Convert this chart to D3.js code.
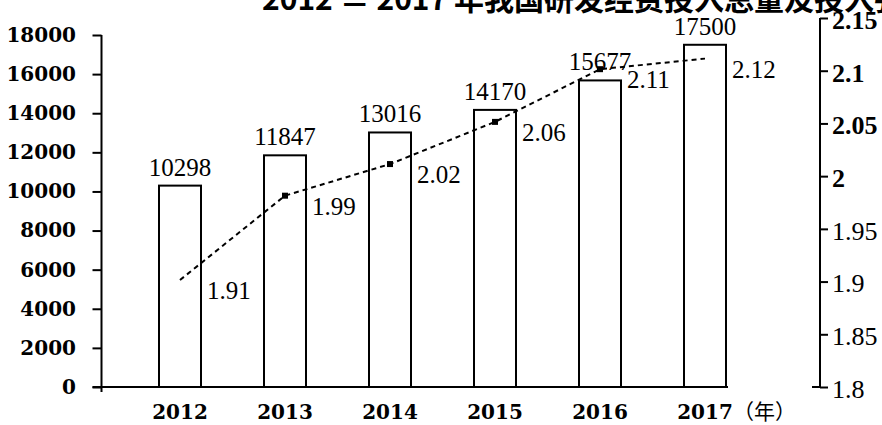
<!DOCTYPE html>
<html>
<head>
<meta charset="utf-8">
<script src="https://cdn.jsdelivr.net/npm/d3@7"></script>
<style>
  body { margin: 0; background: #fff; }
  svg { display: block; }
</style>
</head>
<body>
<div id="view"></div>
<script>
var width = 882, height = 425;

// data
var years = ["2012", "2013", "2014", "2015", "2016", "2017"];
var funding = [10298, 11847, 13016, 14170, 15677, 17500];   // 投入总量 (bars)
var intensity = [1.91, 1.99, 2.02, 2.06, 2.11, 2.12];      // 投入强度 (dashed line)
var leftTicks = [0, 2000, 4000, 6000, 8000, 10000, 12000, 14000, 16000, 18000];
var rightTicks = [1.8, 1.85, 1.9, 1.95, 2, 2.05, 2.1, 2.15];
var titleParts = ["2012 ", "－", " 2017 年我国研发经费投入总量及投入强度"];

var serif = "'Liberation Serif', 'Times New Roman', serif";
var boldSerif = "'DejaVu Serif', serif";

var svg = d3.select("#view").append("svg")
  .attr("width", width)
  .attr("height", height);

var baseY = 387;
var axisX = 101.5, rAxisX = 820;

var x = d3.scaleBand().domain(years).range([106.5, 778.5])
  .paddingInner(0.6).paddingOuter(0.5);
var yLeft = d3.scaleLinear().domain([0, 18000]).range([baseY, 35]);
var yRight = d3.scaleLinear().domain([1.8, 2.15]).range([baseY, 18]);
// the scanned line sits a little below its axis, keep that offset
var yLine = d3.scaleLinear().domain([1.8, 2.15]).range([baseY + 9, 27]);
var bw = x.bandwidth();

// title (clipped at top like the scan)
var t = svg.append("text")
  .attr("x", 262).attr("y", 10)
  .style("font-family", "'Noto Sans CJK SC', sans-serif")
  .style("font-weight", "bold")
  .style("font-size", "30px");
t.append("tspan").text(titleParts[0]);
t.append("tspan").attr("dy", 5).text(titleParts[1]);
t.append("tspan").attr("dy", -5).text(titleParts[2]);

// bars
svg.selectAll(".bar")
  .data(funding).enter()
  .append("rect")
  .attr("class", "bar")
  .attr("x", function(d, i) { return x(years[i]); })
  .attr("y", function(d) { return yLeft(d); })
  .attr("width", bw)
  .attr("height", function(d) { return baseY - yLeft(d); })
  .style("fill", "#fff")
  .style("stroke", "#000")
  .style("stroke-width", 2);

// left axis
var gl = svg.append("g")
  .attr("transform", "translate(" + axisX + ",0)")
  .call(d3.axisLeft(yLeft).tickValues(leftTicks).tickSize(9).tickPadding(16.5)
    .tickFormat(d3.format("d")));
gl.select(".domain").remove();
gl.append("line").attr("y1", yLeft(18000)).attr("y2", baseY + 5).style("stroke", "#000").style("stroke-width", 2);
gl.selectAll(".tick line").style("stroke-width", 2);
gl.selectAll(".tick text")
  .style("font-family", boldSerif)
  .style("font-weight", "bold")
  .style("font-size", "20px")
  .style("fill", "#000");

// x axis baseline
svg.append("line")
  .attr("x1", axisX - 9).attr("x2", x(years[years.length - 1]) + bw + 2)
  .attr("y1", baseY).attr("y2", baseY)
  .style("stroke", "#000").style("stroke-width", 2);

svg.selectAll(".xlab")
  .data(years).enter()
  .append("text")
  .attr("class", "xlab")
  .attr("x", function(d) { return x(d) + bw / 2; })
  .attr("y", 419)
  .attr("text-anchor", "middle")
  .style("font-family", boldSerif)
  .style("font-weight", "bold")
  .style("font-size", "20px")
  .text(function(d) { return d; });

svg.append("text")
  .attr("x", x("2017") + bw + 7)
  .attr("y", 419)
  .style("font-family", "'Noto Sans CJK SC', sans-serif")
  .style("font-size", "21px")
  .text("（年）");

// right axis
var gr = svg.append("g")
  .attr("transform", "translate(" + rAxisX + ",0)")
  .call(d3.axisRight(yRight).tickValues(rightTicks).tickSize(8).tickPadding(4)
    .tickFormat(d3.format("")));
gr.select(".domain").remove();
gr.append("line").attr("y1", yRight(2.15)).attr("y2", yRight(1.8)).style("stroke", "#000").style("stroke-width", 2);
gr.append("line").attr("x1", -8).attr("x2", 0).attr("y1", yRight(1.8)).attr("y2", yRight(1.8)).style("stroke", "#000").style("stroke-width", 2);
gr.selectAll(".tick line").style("stroke-width", 2);
gr.selectAll(".tick text")
  .attr("dy", "0.4em")
  .style("font-family", serif)
  .style("font-weight", function(d) { return d >= 2 ? "bold" : "normal"; })
  .style("font-size", "26px")
  .style("fill", "#000");

// dashed line
var line = d3.line()
  .x(function(d, i) { return x(years[i]) + bw / 2; })
  .y(function(d) { return yLine(d); });

svg.append("path")
  .datum(intensity)
  .attr("d", line)
  .style("fill", "none")
  .style("stroke", "#000")
  .style("stroke-width", 2)
  .style("stroke-dasharray", "5,4");

svg.selectAll(".mk")
  .data(intensity.slice(1, -1)).enter()
  .append("rect")
  .attr("class", "mk")
  .attr("x", function(d, i) { return x(years[i + 1]) + bw / 2 - 3; })
  .attr("y", function(d) { return yLine(d) - 3; })
  .attr("width", 6).attr("height", 6)
  .style("fill", "#000");

// bar value labels
svg.selectAll(".vlab")
  .data(funding).enter()
  .append("text")
  .attr("class", "vlab")
  .attr("x", function(d, i) { return x(years[i]) + bw / 2; })
  .attr("y", function(d) { return yLeft(d) - 10; })
  .attr("text-anchor", "middle")
  .style("font-family", serif)
  .style("font-size", "25px")
  .text(function(d) { return d; });

// line value labels
svg.selectAll(".llab")
  .data(intensity).enter()
  .append("text")
  .attr("class", "llab")
  .attr("x", function(d, i) { return x(years[i]) + bw + 6; })
  .attr("y", function(d) { return yLine(d) + 19; })
  .style("font-family", serif)
  .style("font-size", "25px")
  .text(function(d) { return d3.format(".2f")(d); });
</script>
</body>
</html>
